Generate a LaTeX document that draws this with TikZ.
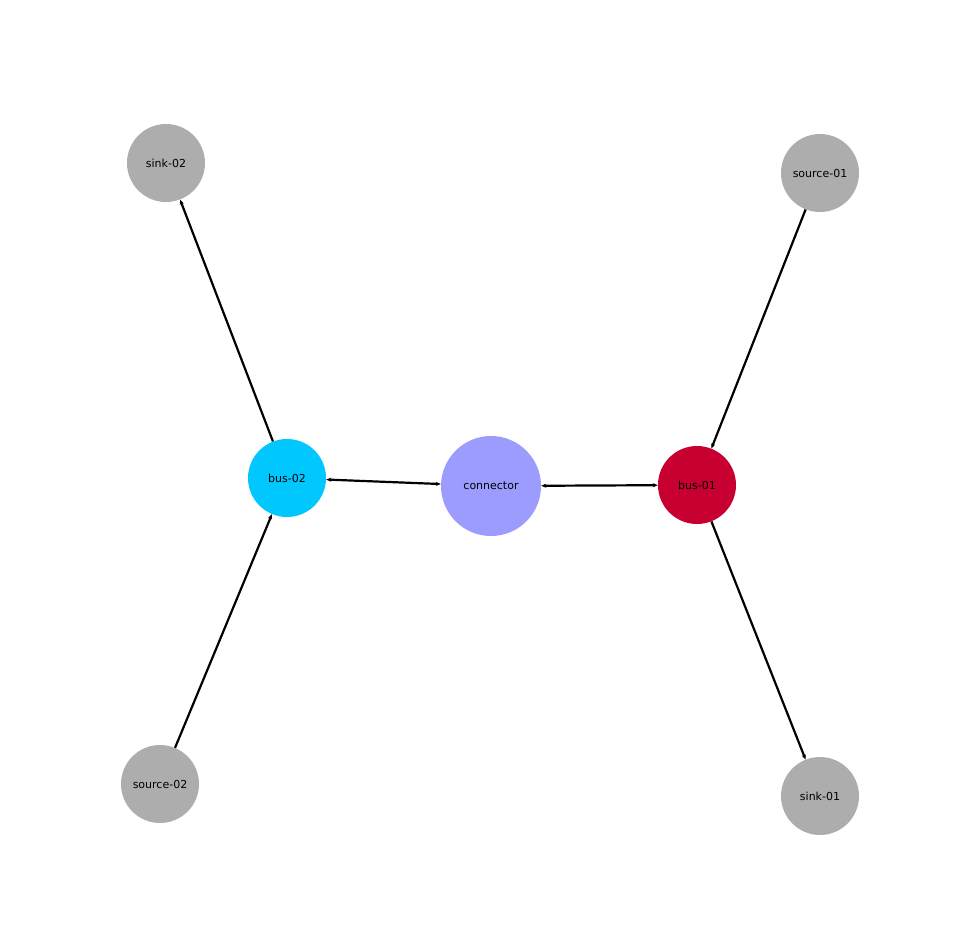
\documentclass[tikz,border=0pt]{standalone}
\usepackage{fontspec}
\setmainfont{DejaVu Sans}
\usetikzlibrary{arrows.meta}
\definecolor{gr}{HTML}{ADADAD}
\definecolor{cy}{HTML}{00C8FF}
\definecolor{rd}{HTML}{C80032}
\definecolor{lv}{HTML}{9C9CFF}
\begin{document}
\begin{tikzpicture}[x=1pt,y=-1pt,
  nd/.style={circle,inner sep=0pt,minimum size=78pt,font=\fontsize{11}{13}\selectfont},
  ed/.style={line width=2.2pt,-{Stealth[length=5pt,width=4pt]}},
  bd/.style={line width=2.2pt,{Stealth[length=5pt,width=4pt]}-{Stealth[length=5pt,width=4pt]}}]
\useasboundingbox[fill=white] (0,0) rectangle (956,948);
\node[nd,fill=gr] (sink2) at (166,163) {sink-02};
\node[nd,fill=gr] (src1) at (820,173) {source-01};
\node[nd,fill=cy] (bus2) at (287,478) {bus-02};
\node[nd,fill=lv,minimum size=100pt] (con) at (491,486) {connector};
\node[nd,fill=rd] (bus1) at (697,485) {bus-01};
\node[nd,fill=gr] (src2) at (160,784) {source-02};
\node[nd,fill=gr] (sink1) at (820,796) {sink-01};
\draw[ed] (bus2) -- (sink2);
\draw[ed] (src1) -- (bus1);
\draw[ed] (src2) -- (bus2);
\draw[ed] (bus1) -- (sink1);
\draw[bd] (bus2) -- (con);
\draw[bd] (con) -- (bus1);
\end{tikzpicture}
\end{document}
